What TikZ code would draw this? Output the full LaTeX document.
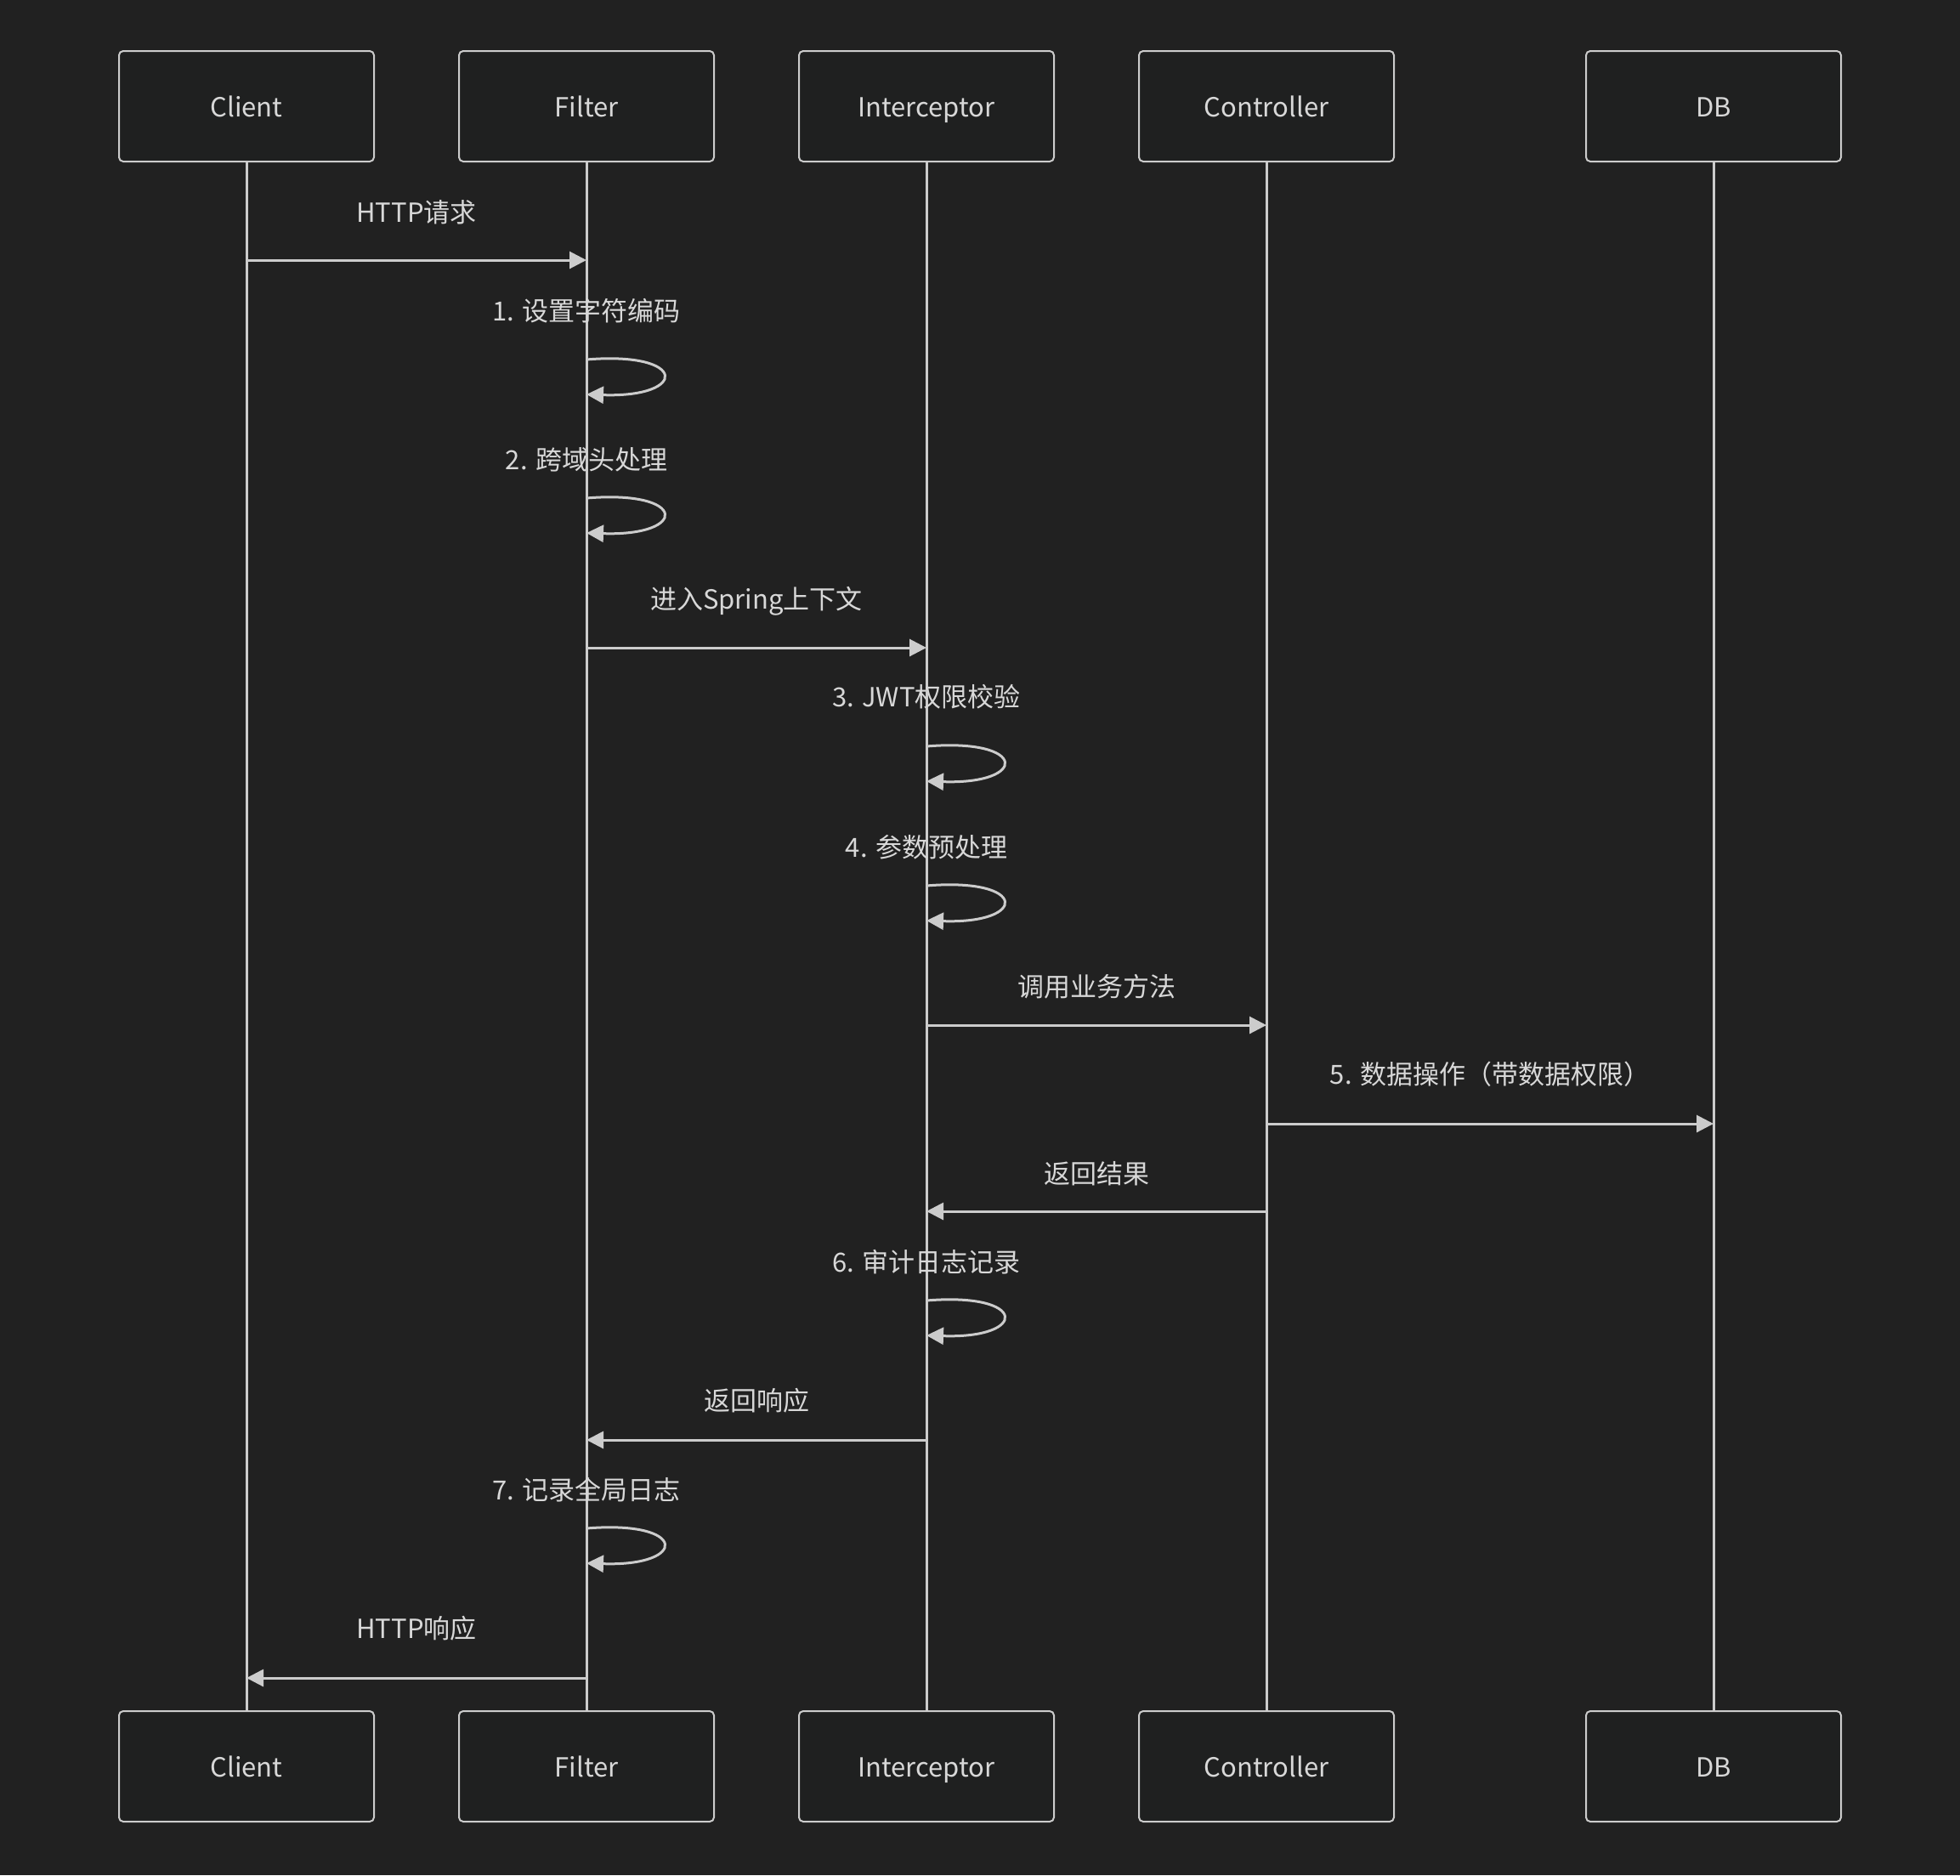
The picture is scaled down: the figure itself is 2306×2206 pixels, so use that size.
\documentclass[tikz,border=0pt]{standalone}
\usepackage{fontspec}
\setmainfont{Noto Sans CJK SC}
\usetikzlibrary{arrows.meta, positioning, calc}
\definecolor{seqBg}{HTML}{212121}
\definecolor{seqBox}{HTML}{1F2020}
\definecolor{seqLine}{HTML}{CCCCCC}
\definecolor{seqText}{HTML}{D8D8D8}
\tikzset{
  actor/.style={rectangle, rounded corners=5pt, draw=seqLine, fill=seqBox,
                line width=2pt, text=seqText, minimum width=300pt,
                minimum height=130pt, text height=28pt, text depth=4pt,
                font=\fontsize{31}{37}\selectfont},
  life/.style={seqLine, line width=3pt},
  msg/.style={-{Triangle[length=20pt, width=20pt]}, seqLine, line width=3pt},
  lbl/.style={text=seqText, inner sep=0pt, text height=28pt, text depth=4pt,
              font=\fontsize{31}{37}\selectfont},
}
\begin{document}
\begin{tikzpicture}[x=1pt, y=-1pt]
    \fill[seqBg] (0,0) rectangle (2306,2206);
    \useasboundingbox (0,0) rectangle (2306,2206);
    % participants, top and bottom
    \foreach \name/\txt/\x in {client/Client/290, filter/Filter/690,
        inter/Interceptor/1090, ctrl/Controller/1490, db/DB/2016} {
      \draw[life] (\x,190) -- (\x,2013);
      \node[actor] (\name) at (\x,125) {\txt};
      \node[actor] (\name b) at (\x,2078) {\txt};
    }
    % messages
    \node[lbl] (l1) at ($(client |- 0,249)!.5!(filter |- 0,249)$) {HTTP请求};
    \draw[msg] (client |- 0,306) -- (filter |- 0,306);
    \node[lbl] (l2) at (filter |- 0,365) {1. 设置字符编码};
    \draw[msg] (filter |- 0,423) .. controls +(120,-10) and +(120,4) .. (filter |- 0,464);
    \node[lbl] (l3) at (filter |- 0,540) {2. 跨域头处理};
    \draw[msg] (filter |- 0,586) .. controls +(120,-10) and +(120,4) .. (filter |- 0,627);
    \node[lbl] (l4) at ($(filter |- 0,704)!.5!(inter |- 0,704)$) {进入Spring上下文};
    \draw[msg] (filter |- 0,762) -- (inter |- 0,762);
    \node[lbl] (l5) at (inter |- 0,819) {3. JWT权限校验};
    \draw[msg] (inter |- 0,878) .. controls +(120,-10) and +(120,4) .. (inter |- 0,919);
    \node[lbl] (l6) at (inter |- 0,996) {4. 参数预处理};
    \draw[msg] (inter |- 0,1042) .. controls +(120,-10) and +(120,4) .. (inter |- 0,1083);
    \node[lbl] (l7) at ($(inter |- 0,1160)!.5!(ctrl |- 0,1160)$) {调用业务方法};
    \draw[msg] (inter |- 0,1206) -- (ctrl |- 0,1206);
    \node[lbl] (l8) at ($(ctrl |- 0,1263)!.5!(db |- 0,1263)$) {5. 数据操作（带数据权限）};
    \draw[msg] (ctrl |- 0,1322) -- (db |- 0,1322);
    \node[lbl] (l9) at ($(inter |- 0,1380)!.5!(ctrl |- 0,1380)$) {返回结果};
    \draw[msg] (ctrl |- 0,1425) -- (inter |- 0,1425);
    \node[lbl] (l10) at (inter |- 0,1484) {6. 审计日志记录};
    \draw[msg] (inter |- 0,1530) .. controls +(120,-10) and +(120,4) .. (inter |- 0,1571);
    \node[lbl] (l11) at ($(filter |- 0,1647)!.5!(inter |- 0,1647)$) {返回响应};
    \draw[msg] (inter |- 0,1694) -- (filter |- 0,1694);
    \node[lbl] (l12) at (filter |- 0,1752) {7. 记录全局日志};
    \draw[msg] (filter |- 0,1798) .. controls +(120,-10) and +(120,4) .. (filter |- 0,1839);
    \node[lbl] (l13) at ($(client |- 0,1915)!.5!(filter |- 0,1915)$) {HTTP响应};
    \draw[msg] (filter |- 0,1974) -- (client |- 0,1974);
\end{tikzpicture}
\end{document}
